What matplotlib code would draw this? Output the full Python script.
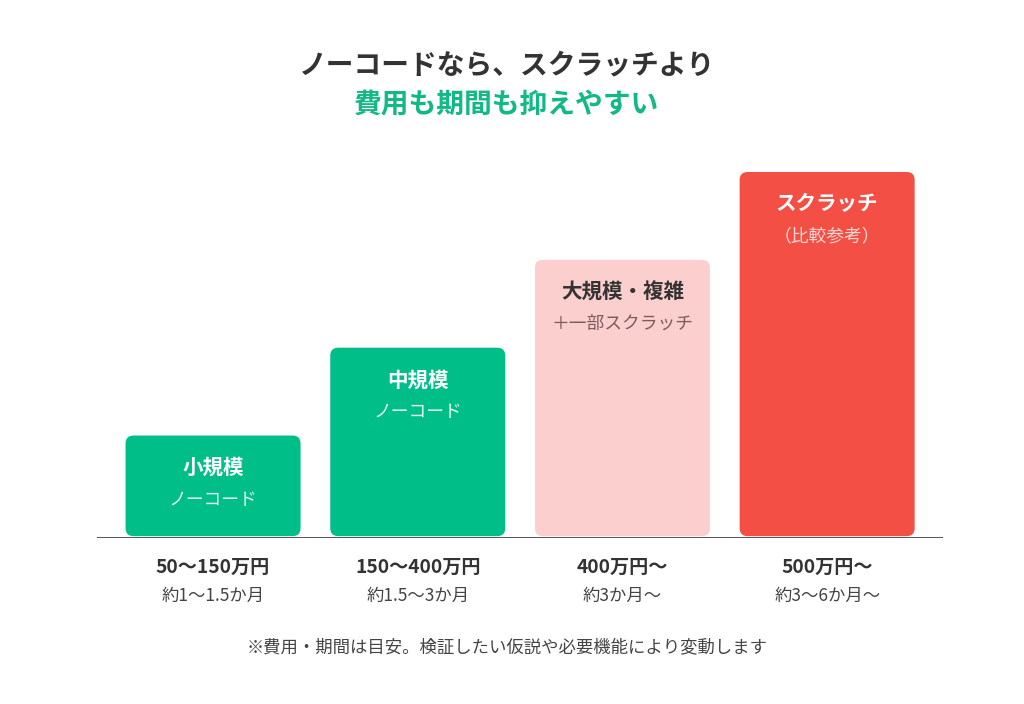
import matplotlib
matplotlib.use("Agg")
import matplotlib.pyplot as plt
from matplotlib.patches import FancyBboxPatch

plt.rcParams['font.family'] = ['Noto Sans CJK JP', 'DejaVu Sans']

categories = ["小規模", "中規模", "大規模・複雑", "スクラッチ"]
subtitles = ["ノーコード", "ノーコード", "＋一部スクラッチ", "（比較参考）"]
values = [28, 52, 76, 100]
costs = ["50〜150万円", "150〜400万円", "400万円〜", "500万円〜"]
periods = ["約1〜1.5か月", "約1.5〜3か月", "約3か月〜", "約3〜6か月〜"]

bar_colors = ["#00BE87", "#00BE87", "#FBCFCD", "#F44F45"]
title_colors = ["white", "white", "#333333", "white"]
sub_colors = ["#E6FAF2", "#E6FAF2", "#7A5C5C", "#FFD9D6"]

W, H = 1024, 704
fig = plt.figure(figsize=(W / 100, H / 100), dpi=100)
fig.patch.set_facecolor("white")

ax_left, ax_right = 97, 943
base_y, top_y = 538, 172
ax = fig.add_axes([ax_left / W, (H - base_y) / H, (ax_right - ax_left) / W, (base_y - top_y) / H])
ax.set_xlim(-0.567, 3.566)
ax.set_ylim(0, 100)
ax.axis("off")

px_x = (3.566 + 0.567) / (ax_right - ax_left)   # x units per pixel
px_y = 100 / (base_y - top_y)                   # y units per pixel
bw = 0.855
r = 8 * px_x
for i, v in enumerate(values):
    p = FancyBboxPatch((i - bw / 2, 0.5), bw, v - 0.5,
                       boxstyle=f"round,pad=0,rounding_size={r}",
                       mutation_aspect=px_y / px_x,
                       facecolor=bar_colors[i], edgecolor="none", zorder=2)
    ax.add_patch(p)
    ax.text(i, v - 32 * px_y, categories[i], ha="center", va="center",
            fontsize=14.8, fontweight="bold", color=title_colors[i], zorder=3)
    ax.text(i, v - 64 * px_y, subtitles[i], ha="center", va="center",
            fontsize=12.8, color=sub_colors[i], zorder=3)
    ax.text(i, -29 * px_y, costs[i], ha="center", va="center",
            fontsize=13.8, fontweight="bold", color="#333333", clip_on=False)
    ax.text(i, -58 * px_y, periods[i], ha="center", va="center",
            fontsize=12.5, color="#444444", clip_on=False)

ax.axhline(0, color="#444444", linewidth=2.0, zorder=4)

cx = 507 / W
fig.text(cx, 1 - 65 / H, "ノーコードなら、スクラッチより", ha="center", va="center",
         fontsize=20, fontweight="bold", color="#333333")
fig.text(cx, 1 - 105 / H, "費用も期間も抑えやすい", ha="center", va="center",
         fontsize=20, fontweight="bold", color="#12B886")
fig.text(cx, 1 - 647 / H, "※費用・期間は目安。検証したい仮説や必要機能により変動します",
         ha="center", va="center", fontsize=12.5, color="#444444")

fig.savefig("out.png", dpi=100, facecolor="white")
